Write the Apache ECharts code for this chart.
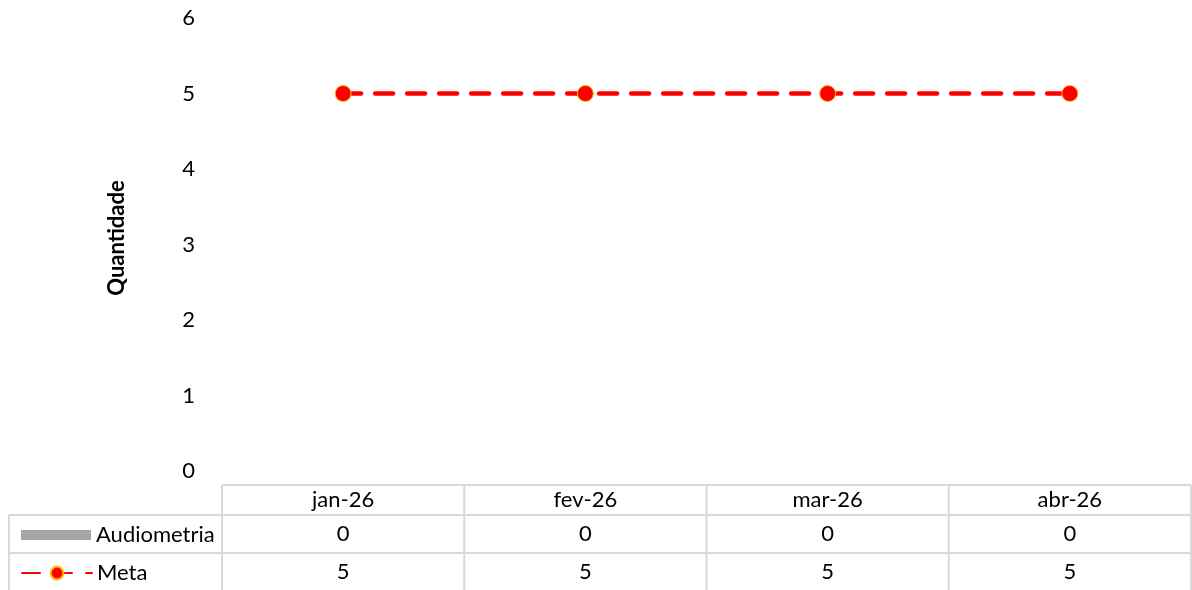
<!DOCTYPE html>
<html>
<head>
<meta charset="utf-8">
<script src="https://cdn.jsdelivr.net/npm/echarts@6/dist/echarts.min.js"></script>
<style>
  html, body { margin: 0; padding: 0; background: #fff; }
  #chart { width: 1192px; height: 590px; }
</style>
</head>
<body>
<div id="chart"></div>
<script>
// Monthly audiometry counts against the target ("Meta")
var categories = ['jan-26', 'fev-26', 'mar-26', 'abr-26'];
var audiometria = [0, 0, 0, 0];
var meta = [5, 5, 5, 5];
var yTicks = [0, 1, 2, 3, 4, 5, 6];

var FONT = 'Lato';
var FS = 22;
var TABLE_LINE = '#d9d9d9';

var chart = echarts.init(document.getElementById('chart'), null, { renderer: 'canvas' });

var option = {
  animation: false,
  textStyle: { fontFamily: FONT },
  grid: { left: 222, right: 1, top: 18, bottom: 119 },
  legend: [
    {
      data: [{ name: 'Audiometria', icon: 'rect' }],
      left: 16, top: 519,
      itemWidth: 70, itemHeight: 10, itemGap: 8,
      textStyle: { fontFamily: FONT, fontSize: FS, color: '#000' },
      selectedMode: false
    },
    {
      data: ['Meta'],
      left: 16, top: 557,
      itemWidth: 70, itemHeight: 16, itemGap: 8,
      textStyle: { fontFamily: FONT, fontSize: FS, color: '#000' },
      selectedMode: false
    }
  ],
  xAxis: {
    type: 'category',
    data: categories,
    boundaryGap: true,
    axisLine: { show: false },
    axisTick: { show: false },
    splitLine: { show: false },
    axisLabel: {
      margin: 14,
      interval: 0,
      formatter: function (value, idx) {
        return '{h|' + value + '}\n{a|' + audiometria[idx] + '}\n{m|' + meta[idx] + '}';
      },
      rich: {
        h: { fontFamily: FONT, fontSize: FS, color: '#000', height: 30, lineHeight: 30 },
        a: { fontFamily: FONT, fontSize: FS, color: '#000', height: 38, lineHeight: 38 },
        m: { fontFamily: FONT, fontSize: FS, color: '#000', height: 37, lineHeight: 37 }
      }
    }
  },
  yAxis: {
    type: 'value',
    min: yTicks[0],
    max: yTicks[yTicks.length - 1],
    interval: 1,
    name: 'Quantidade',
    nameLocation: 'middle',
    nameGap: 94,
    nameRotate: 90,
    nameTextStyle: { fontFamily: FONT, fontSize: FS, fontWeight: 'bold', color: '#000', padding: [0, 0, 0, 13] },
    axisLine: { show: false },
    axisTick: { show: false },
    splitLine: { show: false },
    axisLabel: { margin: 27, fontFamily: FONT, fontSize: FS, color: '#000' }
  },
  series: [
    {
      name: 'Audiometria',
      type: 'bar',
      data: audiometria,
      barWidth: '45%',
      itemStyle: { color: '#a5a5a5' }
    },
    {
      name: 'Meta',
      type: 'line',
      data: meta,
      symbol: 'circle',
      symbolSize: 16,
      lineStyle: { color: '#ff0000', width: 4.5, type: [18, 14], cap: 'round' },
      itemStyle: { color: '#ff0000', borderColor: '#ffc000', borderWidth: 1 },
      z: 3
    }
  ]
};

chart.setOption(option);

// Data table grid lines below the plot, aligned to the category bands
function drawTable() {
  var c0 = chart.convertToPixel({ xAxisIndex: 0 }, 0);
  var c1 = chart.convertToPixel({ xAxisIndex: 0 }, 1);
  var band = c1 - c0;
  var xs = [];
  for (var i = 0; i <= categories.length; i++) {
    xs.push(c0 - band / 2 + i * band);
  }
  var yTop = 485, yRow1 = 515, yRow2 = 553, yBottom = 592;
  var legendLeft = 9;
  var style = { stroke: TABLE_LINE, lineWidth: 2 };
  var els = [];
  els.push({ type: 'line', shape: { x1: xs[0], y1: yTop, x2: xs[xs.length - 1], y2: yTop }, style: style, silent: true });
  els.push({ type: 'line', shape: { x1: legendLeft, y1: yRow1, x2: xs[xs.length - 1], y2: yRow1 }, style: style, silent: true });
  els.push({ type: 'line', shape: { x1: legendLeft, y1: yRow2, x2: xs[xs.length - 1], y2: yRow2 }, style: style, silent: true });
  els.push({ type: 'line', shape: { x1: legendLeft, y1: yRow1, x2: legendLeft, y2: yBottom }, style: style, silent: true });
  xs.forEach(function (x) {
    els.push({ type: 'line', shape: { x1: x, y1: yTop, x2: x, y2: yBottom }, style: style, silent: true });
  });
  chart.setOption({ graphic: els });
}
drawTable();
</script>
</body>
</html>
